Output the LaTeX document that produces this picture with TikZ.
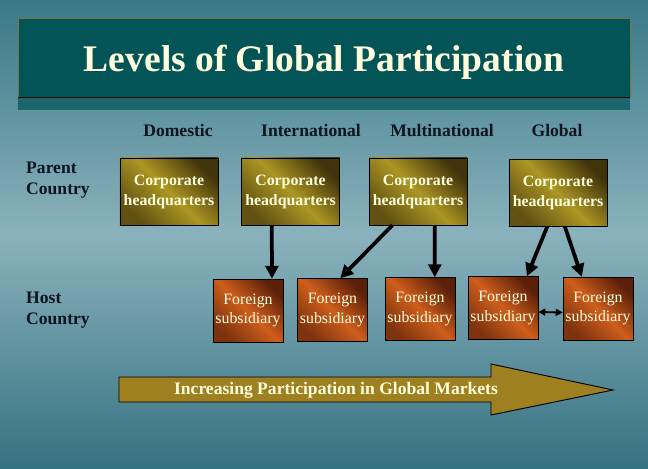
\documentclass[tikz,border=0pt]{standalone}
\usepackage{fontspec}
\setmainfont{Liberation Serif}
\usetikzlibrary{shapes,arrows.meta,positioning,calc}
\definecolor{bgtop}{RGB}{58,120,136}
\definecolor{bgmid}{RGB}{138,178,188}
\definecolor{bgbot}{RGB}{54,114,130}
\definecolor{titleteal}{RGB}{2,84,86}
\definecolor{titleshadow}{RGB}{26,102,106}
\definecolor{titleedge}{RGB}{120,116,60}
\definecolor{creamtext}{RGB}{255,255,222}
\definecolor{hqgold}{RGB}{172,150,36}
\definecolor{hqdark}{RGB}{66,52,10}
\definecolor{fsorange}{RGB}{206,94,28}
\definecolor{fsdark}{RGB}{92,32,8}
\definecolor{arrowgold}{RGB}{158,128,32}
\definecolor{labelink}{RGB}{12,20,30}
\tikzset{
    % Slide styles
    titlebar/.style={
        rectangle, draw=titleedge, fill=titleteal,
        minimum width=18.36cm, minimum height=2.37cm
    },
    titletext/.style={
        text=creamtext, font=\fontsize{32}{36}\selectfont\bfseries
    },
    levellabel/.style={
        text=labelink, text height=1.6ex, text depth=0.3ex,
        font=\fontsize{15}{17}\selectfont\bfseries
    },
    rowlabel/.style={
        anchor=west, align=left, inner sep=0pt,
        text=labelink, font=\fontsize{15}{18}\selectfont\bfseries
    },
    hqbox/.style={
        rectangle, draw=black, inner sep=0pt,
        left color=hqdark, right color=hqdark!70!hqgold, middle color=hqgold,
        shading angle=-45,
        minimum width=2.94cm, minimum height=2.01cm,
        align=center, text=creamtext,
        font=\fontsize{13.5}{17}\selectfont\bfseries
    },
    fsbox/.style={
        rectangle, draw=black, inner sep=0pt,
        left color=fsdark, right color=fsdark!70!fsorange, middle color=fsorange,
        shading angle=-45,
        minimum width=2.1cm, minimum height=1.89cm,
        align=center, text=creamtext,
        font=\fontsize{13.5}{17}\selectfont
    },
    hqarrow/.style={
        line width=3.2pt, -{Triangle[length=11pt,width=11pt]}
    },
    linkarrow/.style={
        line width=1.6pt, {Triangle[length=6pt,width=6pt]}-{Triangle[length=6pt,width=6pt]}
    }
}

\begin{document}
\begin{tikzpicture}[x=0.03cm,y=0.03cm]

% Background
\shade[top color=bgtop, bottom color=bgmid] (0,234) rectangle (648,468);
\shade[top color=bgmid, bottom color=bgbot] (0,0) rectangle (648,234);
\useasboundingbox (0,0) rectangle (648,468);

% Title bar
\fill[titleshadow] (18,358) rectangle (630,371);
\node[titlebar] (title) at (324,410.5) {};
\node[titletext] (heading) at (324,406) {Levels of Global Participation};
\draw[black, line width=1pt] (title.south west) -- (title.south east);

% Level headings
\node[levellabel] (domestic) at (178,335) {Domestic};
\node[levellabel] (international) at (311,335) {International};
\node[levellabel] (multinational) at (442,335) {Multinational};
\node[levellabel] (global) at (557,335) {Global};

% Row headings
\node[rowlabel] (parent) at (26,288) {Parent\\Country};
\node[rowlabel] (host) at (26,158) {Host\\Country};

% Corporate headquarters
\node[hqbox] (hqD) at (169,276.5) {Corporate\\headquarters};
\node[hqbox] (hqI) at (290.5,276.5) {Corporate\\headquarters};
\node[hqbox] (hqM) at (418,276.5) {Corporate\\headquarters};
\node[hqbox] (hqG) at (558,275) {Corporate\\headquarters};

% Foreign subsidiaries
\node[fsbox] (fsA) at (248,157.5) {Foreign\\subsidiary};
\node[fsbox] (fsB) at (332.5,158) {Foreign\\subsidiary};
\node[fsbox] (fsC) at (420,159) {Foreign\\subsidiary};
\node[fsbox] (fsD) at (503,160) {Foreign\\subsidiary};
\node[fsbox] (fsE) at (598,159.5) {Foreign\\subsidiary};

% Connectors
\draw[hqarrow] ($(hqI.south west)!0.31!(hqI.south east)$) -- ($(fsA.north west)!0.84!(fsA.north east)$);
\draw[hqarrow] ($(hqM.south west)!0.24!(hqM.south east)$) -- ($(fsB.north west)!0.61!(fsB.north east)$);
\draw[hqarrow] ($(hqM.south west)!0.67!(hqM.south east)$) -- ($(fsC.north west)!0.71!(fsC.north east)$);
\draw[hqarrow] ($(hqG.south west)!0.39!(hqG.south east)$) -- ($(fsD.north west)!0.84!(fsD.north east)$);
\draw[hqarrow] ($(hqG.south west)!0.57!(hqG.south east)$) -- ($(fsE.north west)!0.27!(fsE.north east)$);
\draw[linkarrow] ($(fsD.east)+(0,-4)$) -- ($(fsE.west)+(0,-4)$);

% Participation arrow
\draw[fill=arrowgold, draw=black, line width=0.8pt]
    (119,91) -- (491,91) -- (491,104) -- (613,78) -- (491,53) -- (491,66) -- (119,66) -- cycle;
\node[text=creamtext, font=\fontsize{15}{17}\selectfont\bfseries] (trend) at (336,78)
    {Increasing Participation in Global Markets};

\end{tikzpicture}
\end{document}
